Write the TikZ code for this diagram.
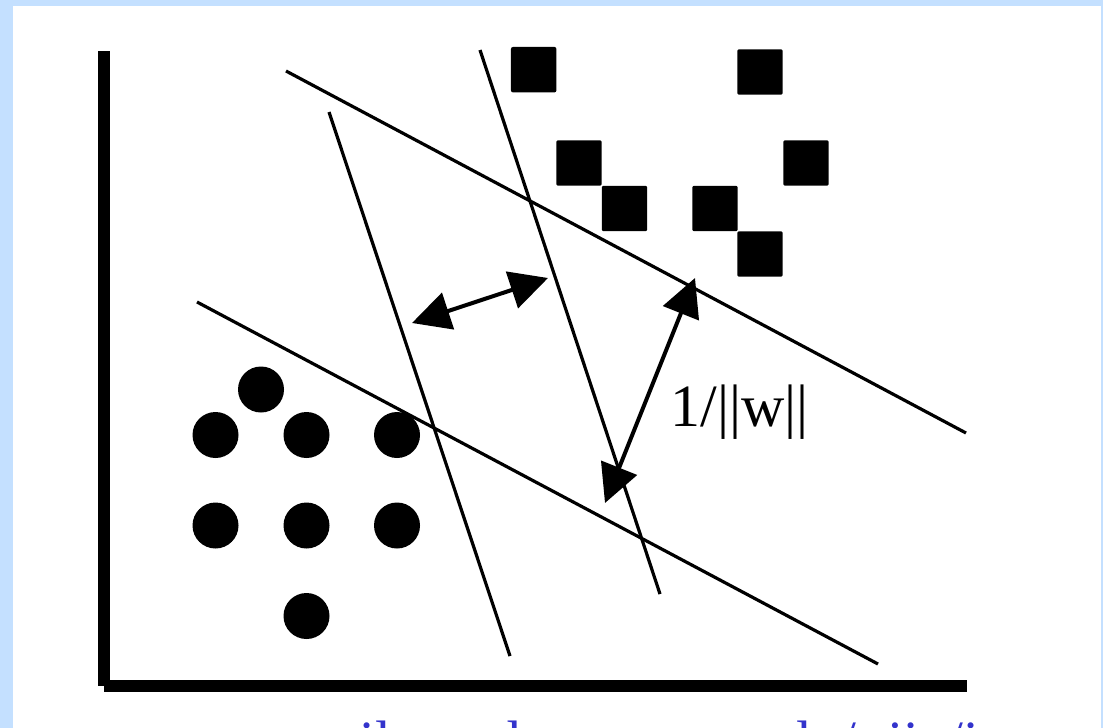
\documentclass[tikz,border=0pt]{standalone}
\usepackage{fontspec}
\setmainfont{Liberation Serif}
\usetikzlibrary{arrows.meta}
\definecolor{bgblue}{RGB}{196,224,255}
\definecolor{urlblue}{RGB}{51,51,204}
\begin{document}
\begin{tikzpicture}[x=0.75pt,y=-0.75pt,
  sqbox/.style={rectangle, fill=black, minimum size=34.1pt, inner sep=0pt, rounded corners=1.5pt},
  dotnode/.style={circle, fill=black, minimum size=34.5pt, inner sep=0pt},
  sepline/.style={line width=2.4pt},
  gaparrow/.style={line width=3pt, {Triangle[length=28.5pt,width=28.5pt]}-{Triangle[length=28.5pt,width=28.5pt]}}
]
\useasboundingbox (0,0) rectangle (1103,728);
\clip (0,0) rectangle (1103,728);
\fill[bgblue] (0,0) rectangle (1103,728);
\fill[white] (13,6) rectangle (1101,728);
% axes
\fill[black] (98,51) rectangle (110,686);
\fill[black] (104,680) rectangle (967,692);
% squares
\node[sqbox] (sq1) at (533.7,69.7) {};
\node[sqbox] (sq2) at (760,72) {};
\node[sqbox] (sq3) at (579,163) {};
\node[sqbox] (sq4) at (806,163) {};
\node[sqbox] (sq5) at (624.5,208.5) {};
\node[sqbox] (sq6) at (715,208.5) {};
\node[sqbox] (sq7) at (760,254) {};
% circles
\node[dotnode] (c1) at (261,389.5) {};
\node[dotnode] (c2) at (215.5,435) {};
\node[dotnode] (c3) at (306.5,435) {};
\node[dotnode] (c4) at (397,435) {};
\node[dotnode] (c5) at (215.5,525.5) {};
\node[dotnode] (c6) at (306.5,525.5) {};
\node[dotnode] (c7) at (397,525.5) {};
\node[dotnode] (c8) at (306.5,616) {};
% separating lines
\coordinate (l1a) at (286,71);  \coordinate (l1b) at (966,433);
\coordinate (l2a) at (197,302); \coordinate (l2b) at (878,664);
\coordinate (l3a) at (329,112); \coordinate (l3b) at (510,656);
\coordinate (l4a) at (480,50);  \coordinate (l4b) at (660,594);
\draw[sepline] (l1a) -- (l1b);
\draw[sepline] (l2a) -- (l2b);
\draw[sepline] (l3a) -- (l3b);
\draw[sepline] (l4a) -- (l4b);
% margin arrows
\coordinate (a1s) at (412,323); \coordinate (a1e) at (548,278);
\coordinate (a2s) at (605,503); \coordinate (a2e) at (695,278);
\draw[gaparrow] (a1s) -- (a1e);
\draw[gaparrow] (a2s) -- (a2e);
% label
\node[anchor=base west, inner sep=0pt, font=\fontsize{45}{54}\selectfont] (lbl) at (670.4,426.7) {1/||w||};
% cut-off url
\node[anchor=base west, inner sep=0pt, text=urlblue, font=\fontsize{42.75}{50}\selectfont] (url) at (156,760.6) {www.mail.sc.edu, www.cs.slu/\textasciitilde jiu/icon};
\end{tikzpicture}
\end{document}
